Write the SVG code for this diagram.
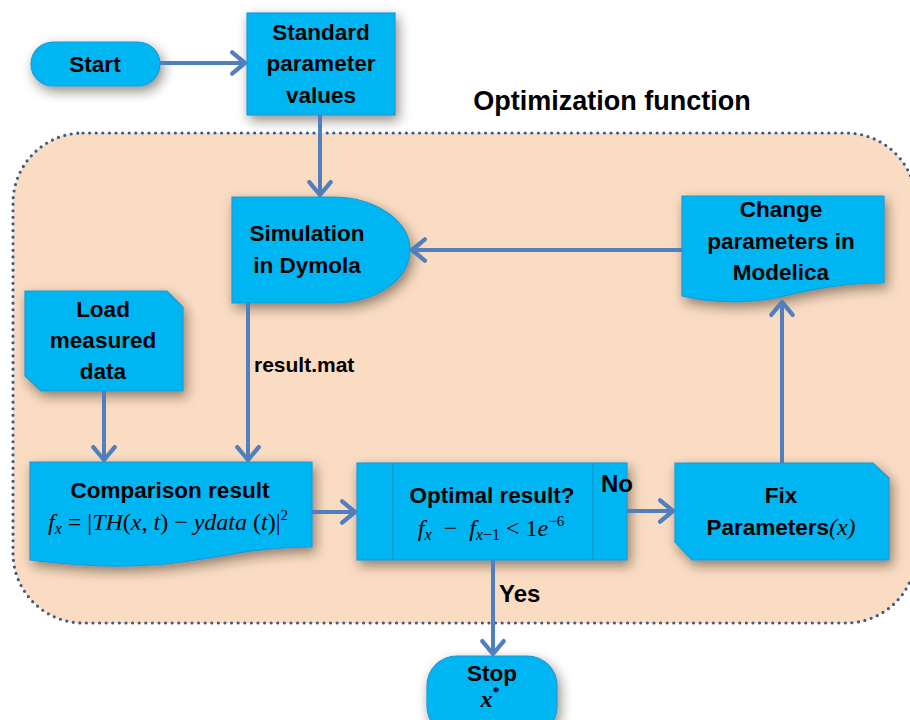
<svg xmlns="http://www.w3.org/2000/svg" width="910" height="720" viewBox="0 0 910 720">
  <defs>
    <filter id="shadow" x="-25%" y="-25%" width="150%" height="160%">
      <feDropShadow dx="3" dy="5" stdDeviation="6" flood-color="#2a1a10" flood-opacity="0.5"/>
    </filter>
    <marker id="arrow" markerUnits="userSpaceOnUse" markerWidth="30" markerHeight="30" viewBox="-16 -14 20 28" refX="0" refY="0" orient="auto">
      <path d="M-12,-10 L0,0 L-12,10" fill="none" stroke="#4f7fbe" stroke-width="4" stroke-linecap="round" stroke-linejoin="round"/>
    </marker>
  </defs>
  <style>
    .node { fill: #03b6f2; stroke: #1f98d2; stroke-width: 1.2; filter: url(#shadow); }
    .divider { fill: none; stroke: #1f8fc8; stroke-width: 1.2; }
    .lbl { font-family: "Liberation Sans", Arial, sans-serif; font-weight: bold; font-size: 22.5px; fill: #000; text-anchor: middle; }
    .title { font-size: 27px; }
    .math { font-family: "Liberation Serif", "Times New Roman", serif; font-size: 24px; fill: #000; text-anchor: middle; white-space: pre; }
    .it { font-style: italic; }
    .edge { fill: none; stroke: #4f7fbe; stroke-width: 4; marker-end: url(#arrow); }
    .edgetxt { font-family: "Liberation Sans", Arial, sans-serif; font-weight: bold; font-size: 21px; fill: #000; }
    .big { font-size: 24px; }
  </style>

  <rect width="910" height="720" fill="#ffffff"/>

  <!-- optimization loop region -->
  <g id="optimization-region">
    <rect x="13" y="133" width="903" height="490" rx="70" ry="70" fill="#fadcc3" stroke="#3d5b88" stroke-width="3.2" stroke-dasharray="0 6.6" stroke-linecap="round"/>
    <text x="612" y="110" class="lbl title">Optimization function</text>
  </g>

  <g id="start">
    <rect class="node" x="31" y="42" width="129" height="44" rx="22" ry="22"/>
    <text class="lbl" x="95" y="72">Start</text>
  </g>

  <g id="standard-parameters">
    <rect class="node" x="247" y="13" width="148" height="102"/>
    <text class="lbl" x="321" y="40">Standard</text>
    <text class="lbl" x="321" y="71">parameter</text>
    <text class="lbl" x="321" y="103">values</text>
  </g>

  <g id="simulation">
    <path class="node" d="M232,197 H332 C380,197 410,224 410,250 C410,277 380,303 332,303 H232 Z"/>
    <text class="lbl" x="307" y="241">Simulation</text>
    <text class="lbl" x="307" y="273">in Dymola</text>
  </g>

  <g id="change-parameters">
    <path class="node" d="M682,196 H884 V283 C840,283 810,290 780,297 C750,304 712,303 682,296 Z"/>
    <text class="lbl" x="781" y="217">Change</text>
    <text class="lbl" x="781" y="249">parameters in</text>
    <text class="lbl" x="781" y="280">Modelica</text>
  </g>

  <g id="load-data">
    <path class="node" d="M25,291 H167 L183,307 V391 H41 L25,376 Z"/>
    <text class="lbl" x="103" y="317">Load</text>
    <text class="lbl" x="103" y="348">measured</text>
    <text class="lbl" x="103" y="379">data</text>
  </g>

  <g id="comparison">
    <path class="node" d="M30,462 H312 V547 C262,547 230,555 190,561 C150,567 100,569 30,560 Z"/>
    <text class="lbl" x="170" y="498">Comparison result</text>
    <text class="math" x="168" y="530"><tspan class="it">f</tspan><tspan class="it" font-size="16" dy="4">x</tspan><tspan dy="-4"> = |</tspan><tspan class="it">TH</tspan>(<tspan class="it">x</tspan>, <tspan class="it">t</tspan>) − <tspan class="it">ydata</tspan> (<tspan class="it">t</tspan>)|<tspan font-size="15" dy="-10">2</tspan></text>
  </g>

  <g id="optimal-check">
    <rect class="node" x="357" y="463" width="270" height="97"/>
    <path class="divider" d="M393,463 V560 M593,463 V560"/>
    <text class="lbl" x="492" y="503">Optimal result?</text>
    <text class="math" x="491" y="536"><tspan class="it">f</tspan><tspan class="it" font-size="16" dy="4">x</tspan><tspan dy="-4">  −  </tspan><tspan class="it">f</tspan><tspan font-size="16" dy="4"><tspan class="it">x</tspan>−1</tspan><tspan dy="-4"> &lt; 1</tspan><tspan class="it">e</tspan><tspan font-size="15" dy="-10">−6</tspan></text>
  </g>

  <g id="fix-parameters">
    <path class="node" d="M675,463 H873 L889,478 V560 H692 L675,542 Z"/>
    <text class="lbl" x="781" y="503">Fix</text>
    <text class="lbl" x="781" y="535">Parameters<tspan font-family="Liberation Serif, serif" font-style="italic" font-weight="normal" font-size="24">(x)</tspan></text>
  </g>

  <g id="stop">
    <rect class="node" x="427" y="656" width="130" height="80" rx="30" ry="30"/>
    <text class="lbl" x="492" y="681">Stop</text>
    <text class="math" x="490" y="707" font-weight="bold"><tspan class="it">x</tspan><tspan font-size="14" dy="-10">*</tspan></text>
  </g>

  <!-- connectors, drawn above the nodes so their labels stay visible -->
  <g id="connectors">
    <path class="edge" d="M160,63 H245"/>
    <path class="edge" d="M320,115 V195"/>
    <path class="edge" d="M682,250 H412"/>
    <path class="edge" d="M248,303 V460"/>
    <path class="edge" d="M104,391 V460"/>
    <path class="edge" d="M312,512 H355"/>
    <path class="edge" d="M627,511 H673"/>
    <path class="edge" d="M782,463 V302"/>
    <path class="edge" d="M493,560 V654"/>
    <text class="edgetxt" x="254" y="372">result.mat</text>
    <text class="edgetxt big" x="601" y="492">No</text>
    <text class="edgetxt big" x="499" y="602">Yes</text>
  </g>
</svg>
